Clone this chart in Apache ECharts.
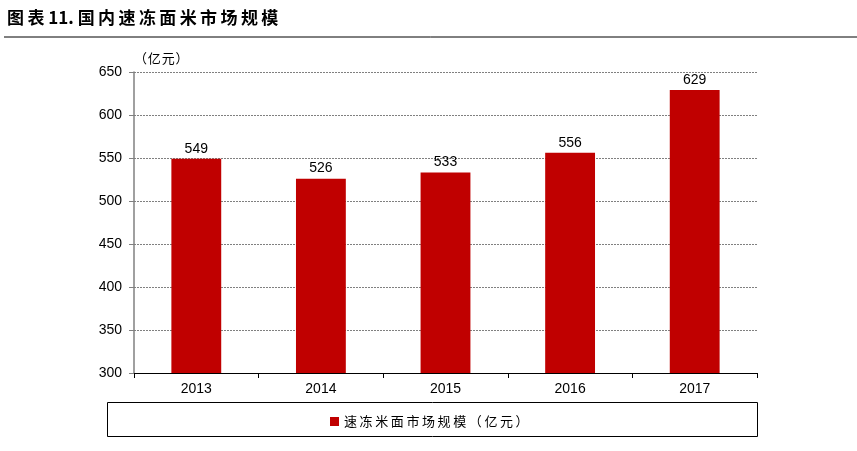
<!DOCTYPE html>
<html lang="zh">
<head>
    <meta charset="UTF-8">
    <title>国内速冻面米市场规模</title>
    <script src="https://cdn.jsdelivr.net/npm/echarts@6/dist/echarts.min.js"></script>
    <style>
        body { margin: 0; padding: 0; background: #fff; }
        #chart { width: 857px; height: 451px; }
    </style>
</head>
<body>
    <div id="chart"></div>
    <script>
        // data
        var years = ['2013', '2014', '2015', '2016', '2017'];
        var marketSize = [549, 526, 533, 556, 629];
        var seriesName = '速冻米面市场规模（亿元）';

        // the reference sets its Chinese text with a little letter spacing
        function spaced(s, sp) {
            return s.split('').join(sp);
        }

        var myChart = echarts.init(document.getElementById('chart'));
        var cn = '"Noto Sans CJK SC", sans-serif';
        var num = '"Liberation Sans", Arial, sans-serif';

        var option = {
            animation: false,
            backgroundColor: '#fff',
            graphic: [
                {
                    type: 'text', left: 7, top: 9,
                    style: {
                        text: spaced('图表', '\u2009') + ' 11. ' + spaced('国内速冻面米市场规模', '\u2009'),
                        font: 'bold 17px ' + cn, fill: '#000'
                    }
                },
                {
                    type: 'line',
                    shape: { x1: 4, y1: 37, x2: 857, y2: 37 },
                    style: { stroke: '#000', lineWidth: 1 }
                },
                {
                    type: 'text', left: 134, top: 52,
                    style: { text: spaced('（亿元）', '\u200A'), font: '13px ' + cn, fill: '#000' }
                },
                {
                    type: 'rect',
                    shape: { x: 107.5, y: 402.5, width: 650, height: 34 },
                    style: { fill: 'none', stroke: '#000', lineWidth: 1 }
                }
            ],
            grid: { left: 134, right: 100, top: 72, bottom: 78 },
            legend: {
                data: [seriesName],
                formatter: function (name) { return spaced(name, '\u2009'); },
                top: 410,
                left: 325,
                icon: 'rect',
                itemWidth: 9,
                itemHeight: 9,
                itemGap: 4,
                textStyle: { fontFamily: cn, fontSize: 13, color: '#000' }
            },
            xAxis: {
                type: 'category',
                data: years,
                axisLine: { lineStyle: { color: '#000', width: 1.2 } },
                axisTick: { show: true, alignWithLabel: false, length: 5, lineStyle: { color: '#000' } },
                axisLabel: { color: '#000', fontFamily: num, fontSize: 14, margin: 9 }
            },
            yAxis: {
                type: 'value',
                min: 300,
                max: 650,
                interval: 50,
                axisLine: { show: true, lineStyle: { color: '#808080', width: 1.5 } },
                axisTick: { show: true, length: 5, lineStyle: { color: '#808080' } },
                axisLabel: { color: '#000', fontFamily: num, fontSize: 14, margin: 12 },
                splitLine: { lineStyle: { color: '#808080', type: [2, 1], width: 1 } }
            },
            series: [
                {
                    name: seriesName,
                    type: 'bar',
                    data: marketSize,
                    barWidth: '40%',
                    itemStyle: { color: '#C00000' },
                    label: {
                        show: true,
                        position: 'top',
                        distance: 3,
                        color: '#000',
                        fontFamily: num,
                        fontSize: 14
                    }
                }
            ]
        };

        myChart.setOption(option);
    </script>
</body>
</html>
